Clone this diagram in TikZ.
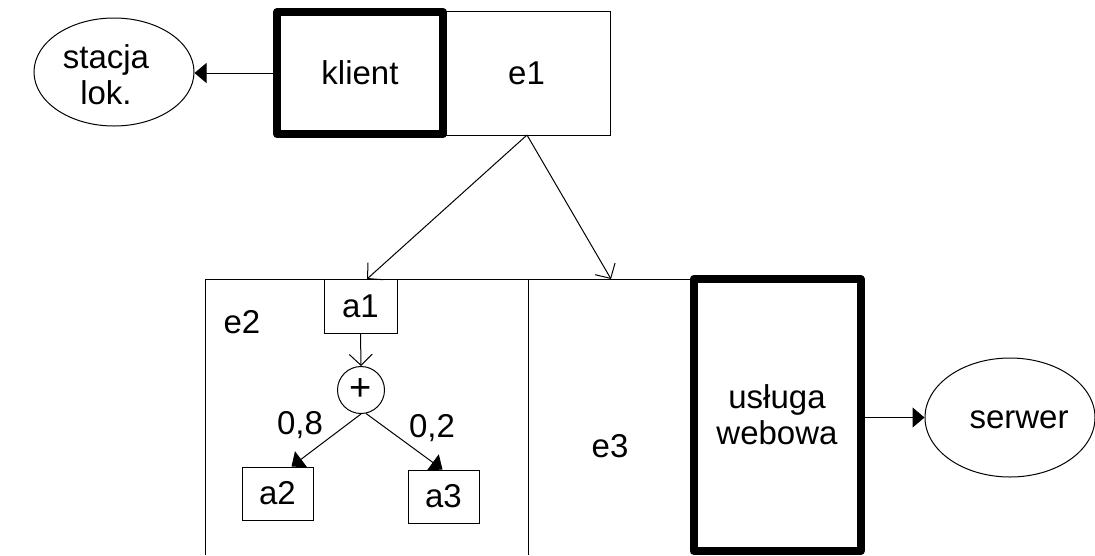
\documentclass[tikz,border=0pt]{standalone}
\usepackage{fontspec}
\setmainfont{Liberation Sans}
\usetikzlibrary{arrows.meta,shapes.geometric}

\tikzset{
  txt/.style={font=\fontsize{33}{36}\selectfont, inner sep=0pt, align=center},
  thinbox/.style={draw, line width=1pt, inner sep=0pt, txt},
  thickbox/.style={draw, line width=8pt, line join=round, inner sep=0pt, txt},
  oval/.style={ellipse, draw, line width=1pt, inner sep=0pt},
  fillarr/.style={line width=1pt, -{Triangle[length=12pt,width=20pt]}},
  openarr/.style={line width=1pt, -{Straight Barb[length=11pt,width=23pt]}},
  panel/.style={line width=1pt}
}

\begin{document}
\begin{tikzpicture}[x=1pt,y=-1pt]
\useasboundingbox (0,0) rectangle (1095,555);

% top: client, its activity e1 and the local station
\node[thinbox, minimum width=167pt, minimum height=124pt] (e1) at (526.5,73) {e1};
\node[thickbox, minimum width=166pt, minimum height=122pt] (klient) at (360,73) {klient};
\node[oval, minimum width=160pt, minimum height=108pt] (stacja) at (114,72) {};
\node[txt] (stacjatxt) at (106,75) {stacja\\lok.};

\draw[fillarr] (klient.west) -- (klient.west -| stacja.east);

% lower swimlanes e2 and e3
\coordinate (ltop) at (205,279);
\coordinate (lbot) at (205,555);
\coordinate (mtop) at (528,279);
\coordinate (mbot) at (528,555);
\coordinate (rtop) at (690,279);
\draw[panel] (lbot) -- (ltop) -- (rtop);
\draw[panel] (mtop) -- (mbot);
\node[txt] (e2) at (242,322) {e2};
\node[txt] (e3) at (610,446) {e3};

% web service and server
\node[thickbox, minimum width=167pt, minimum height=272pt] (usluga) at (777,415) {usługa\\webowa};
\node[oval, minimum width=170pt, minimum height=119pt] (serwer) at (1010,417.5) {};
\node[txt] (serwertxt) at (1019,420) {serwer};
\draw[fillarr] (usluga.east |- serwer.west) -- (serwer.west);

% activities inside e2
\node[thinbox, minimum width=73pt, minimum height=54pt] (a1) at (360.5,306) {a1};
\node[circle, draw, line width=1pt, minimum size=47pt, inner sep=0pt, font=\fontsize{38}{40}\selectfont] (plus) at (361,390) {+};
\node[thinbox, minimum width=71pt, minimum height=53pt] (a2) at (277.5,493.5) {a2};
\node[thinbox, minimum width=71pt, minimum height=53pt] (a3) at (443.5,496.5) {a3};

% flows from e1 into the lanes
\coordinate (e1out) at (527,135);
\coordinate (toe2) at (367,279);
\coordinate (toe3) at (611,279);
\draw[openarr] (e1out) -- (toe2);
\draw[openarr] (e1out) -- (toe3);

% choice with probabilities
\draw[openarr] (a1.south) -- (plus.north);
\draw[fillarr] (plus.south) -- ([xshift=14pt]a2.north);
\draw[fillarr] (plus.-78) -- ([xshift=-1pt]a3.north);
\node[txt] (p08) at (300,425) {0,8};
\node[txt] (p02) at (432,428) {0,2};
\end{tikzpicture}
\end{document}
